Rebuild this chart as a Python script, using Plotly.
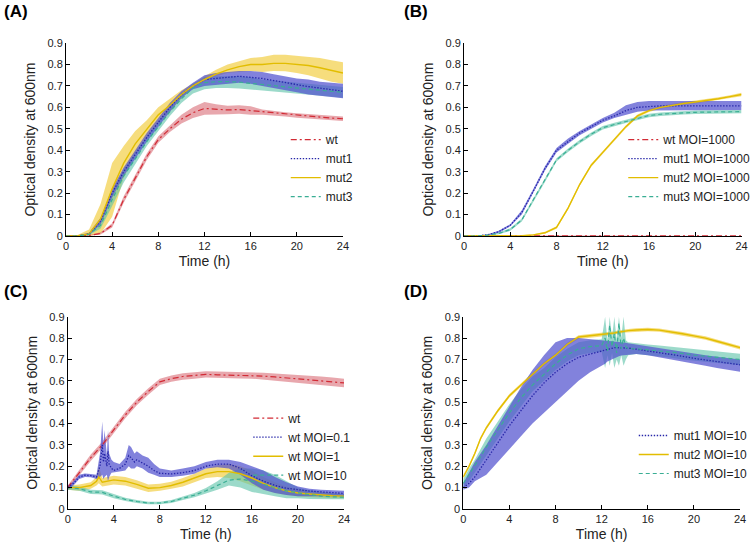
import plotly.graph_objects as go

# ---------------- DATA ----------------
T = list(range(0, 25))

# Panel A
A_wt = [0, 0, 0.003, 0.012, 0.05, 0.17, 0.27, 0.37, 0.45, 0.5, 0.545, 0.575, 0.595, 0.59, 0.588, 0.59, 0.585, 0.578, 0.572, 0.567, 0.562, 0.558, 0.555, 0.55, 0.547]
A_wt_lo = [0, 0, 0.001, 0.007, 0.04, 0.155, 0.255, 0.355, 0.435, 0.485, 0.525, 0.55, 0.565, 0.565, 0.568, 0.57, 0.565, 0.566, 0.562, 0.557, 0.552, 0.548, 0.545, 0.54, 0.537]
A_wt_hi = [0.002, 0.002, 0.005, 0.017, 0.06, 0.185, 0.285, 0.385, 0.465, 0.515, 0.565, 0.6, 0.625, 0.615, 0.608, 0.61, 0.605, 0.59, 0.582, 0.577, 0.572, 0.568, 0.565, 0.56, 0.557]
A_m1 = [0, 0, 0.01, 0.07, 0.2, 0.3, 0.38, 0.46, 0.53, 0.6, 0.66, 0.7, 0.73, 0.735, 0.74, 0.745, 0.74, 0.735, 0.725, 0.715, 0.705, 0.697, 0.69, 0.682, 0.675]
A_m1_lo = [0, 0, 0.005, 0.055, 0.18, 0.28, 0.36, 0.44, 0.51, 0.58, 0.645, 0.685, 0.7, 0.705, 0.71, 0.715, 0.71, 0.7, 0.69, 0.68, 0.67, 0.66, 0.655, 0.648, 0.642]
A_m1_hi = [0.002, 0.003, 0.015, 0.085, 0.22, 0.32, 0.4, 0.48, 0.55, 0.62, 0.675, 0.715, 0.75, 0.76, 0.765, 0.77, 0.77, 0.765, 0.755, 0.745, 0.735, 0.73, 0.72, 0.715, 0.71]
A_m2 = [0, 0, 0.01, 0.08, 0.22, 0.34, 0.43, 0.5, 0.565, 0.61, 0.66, 0.7, 0.73, 0.755, 0.775, 0.79, 0.8, 0.8, 0.805, 0.805, 0.8, 0.795, 0.785, 0.772, 0.76]
A_m2_lo = [0, 0, 0.0, 0.01, 0.09, 0.27, 0.38, 0.46, 0.53, 0.58, 0.64, 0.69, 0.72, 0.745, 0.76, 0.765, 0.77, 0.765, 0.77, 0.768, 0.76, 0.75, 0.735, 0.72, 0.71]
A_m2_hi = [0.003, 0.005, 0.03, 0.15, 0.34, 0.42, 0.49, 0.54, 0.6, 0.64, 0.68, 0.71, 0.745, 0.775, 0.8, 0.815, 0.83, 0.835, 0.845, 0.845, 0.84, 0.835, 0.83, 0.82, 0.81]
A_m3 = [0, 0, 0.008, 0.05, 0.17, 0.28, 0.36, 0.44, 0.51, 0.58, 0.64, 0.69, 0.715, 0.72, 0.72, 0.718, 0.712, 0.706, 0.7, 0.695, 0.69, 0.685, 0.68, 0.675, 0.67]
A_m3_lo = [0, 0, 0.004, 0.035, 0.14, 0.25, 0.335, 0.42, 0.49, 0.56, 0.62, 0.665, 0.685, 0.69, 0.69, 0.688, 0.685, 0.68, 0.675, 0.67, 0.665, 0.66, 0.655, 0.65, 0.645]
A_m3_hi = [0.002, 0.002, 0.012, 0.065, 0.2, 0.31, 0.39, 0.465, 0.535, 0.6, 0.66, 0.71, 0.74, 0.745, 0.745, 0.745, 0.74, 0.73, 0.725, 0.72, 0.715, 0.71, 0.705, 0.7, 0.695]

# Panel B
B_wt = [0.001] * 25
B_wt_lo = [0.0] * 25
B_wt_hi = [0.003] * 25
B_m1 = [0, 0, 0.005, 0.02, 0.05, 0.11, 0.21, 0.315, 0.4, 0.44, 0.48, 0.51, 0.54, 0.56, 0.585, 0.6, 0.605, 0.607, 0.607, 0.607, 0.607, 0.607, 0.607, 0.607, 0.607]
B_m1_lo = [0, 0, 0.003, 0.015, 0.045, 0.1, 0.2, 0.305, 0.39, 0.43, 0.47, 0.5, 0.53, 0.55, 0.565, 0.58, 0.585, 0.587, 0.588, 0.588, 0.588, 0.588, 0.588, 0.588, 0.588]
B_m1_hi = [0.001, 0.002, 0.007, 0.025, 0.055, 0.12, 0.22, 0.325, 0.41, 0.455, 0.49, 0.52, 0.55, 0.575, 0.61, 0.625, 0.63, 0.63, 0.63, 0.63, 0.63, 0.63, 0.63, 0.63, 0.63]
B_m2 = [0, 0, 0, 0, 0, 0.001, 0.005, 0.015, 0.04, 0.13, 0.24, 0.33, 0.39, 0.45, 0.51, 0.56, 0.585, 0.6, 0.61, 0.618, 0.625, 0.632, 0.64, 0.65, 0.66]
B_m2_lo = [0, 0, 0, 0, 0, 0, 0.002, 0.01, 0.034, 0.123, 0.233, 0.323, 0.383, 0.443, 0.503, 0.553, 0.578, 0.593, 0.603, 0.611, 0.618, 0.625, 0.633, 0.643, 0.652]
B_m2_hi = [0.001, 0.001, 0.001, 0.001, 0.002, 0.003, 0.008, 0.02, 0.046, 0.137, 0.247, 0.337, 0.397, 0.457, 0.517, 0.567, 0.592, 0.607, 0.617, 0.625, 0.632, 0.639, 0.647, 0.657, 0.668]
B_m3 = [0, 0, 0.004, 0.012, 0.03, 0.075, 0.17, 0.26, 0.355, 0.4, 0.44, 0.475, 0.505, 0.52, 0.535, 0.55, 0.562, 0.568, 0.572, 0.575, 0.577, 0.578, 0.579, 0.58, 0.58]
B_m3_lo = [0, 0, 0.002, 0.008, 0.024, 0.068, 0.162, 0.252, 0.347, 0.392, 0.432, 0.467, 0.497, 0.512, 0.527, 0.542, 0.554, 0.56, 0.564, 0.567, 0.569, 0.57, 0.571, 0.572, 0.572]
B_m3_hi = [0.001, 0.002, 0.006, 0.016, 0.036, 0.082, 0.178, 0.268, 0.363, 0.408, 0.448, 0.483, 0.513, 0.528, 0.543, 0.558, 0.57, 0.576, 0.58, 0.583, 0.585, 0.586, 0.587, 0.588, 0.588]

# Panel C
C_wt = [0.1, 0.17, 0.24, 0.3, 0.37, 0.44, 0.5, 0.55, 0.595, 0.61, 0.62, 0.625, 0.63, 0.628, 0.627, 0.626, 0.625, 0.622, 0.618, 0.614, 0.61, 0.605, 0.6, 0.595, 0.59]
C_wt_lo = [0.09, 0.155, 0.225, 0.285, 0.355, 0.425, 0.485, 0.535, 0.58, 0.595, 0.605, 0.61, 0.615, 0.613, 0.612, 0.611, 0.61, 0.606, 0.602, 0.597, 0.592, 0.586, 0.58, 0.575, 0.57]
C_wt_hi = [0.11, 0.185, 0.255, 0.315, 0.385, 0.455, 0.515, 0.565, 0.61, 0.625, 0.635, 0.64, 0.645, 0.643, 0.642, 0.641, 0.64, 0.638, 0.634, 0.631, 0.628, 0.624, 0.62, 0.615, 0.61]

C_t01 = [0, 0.5, 1, 1.5, 2, 2.5, 2.8, 3.0, 3.1, 3.2, 3.4, 3.5, 3.6, 3.8, 4, 4.5, 5, 5.3, 5.5, 5.8, 6, 6.5, 7, 7.5, 8, 9, 10, 11, 12, 13, 14, 15, 16, 17, 18, 19, 20, 21, 22, 23, 24]
C_m01 = [0.1, 0.12, 0.15, 0.158, 0.156, 0.15, 0.2, 0.3, 0.22, 0.26, 0.2, 0.27, 0.21, 0.19, 0.18, 0.19, 0.21, 0.25, 0.24, 0.22, 0.23, 0.215, 0.2, 0.18, 0.167, 0.164, 0.17, 0.18, 0.2, 0.21, 0.21, 0.19, 0.155, 0.13, 0.11, 0.097, 0.089, 0.084, 0.08, 0.076, 0.073]
C_m01_lo = [0.09, 0.11, 0.14, 0.15, 0.148, 0.14, 0.15, 0.16, 0.14, 0.15, 0.16, 0.13, 0.15, 0.17, 0.17, 0.175, 0.18, 0.2, 0.19, 0.19, 0.2, 0.19, 0.17, 0.16, 0.15, 0.15, 0.155, 0.165, 0.19, 0.195, 0.19, 0.16, 0.12, 0.09, 0.075, 0.065, 0.06, 0.06, 0.06, 0.06, 0.06]
C_m01_hi = [0.11, 0.13, 0.16, 0.166, 0.164, 0.16, 0.26, 0.41, 0.3, 0.37, 0.25, 0.37, 0.26, 0.23, 0.22, 0.21, 0.24, 0.3, 0.29, 0.26, 0.27, 0.25, 0.24, 0.21, 0.19, 0.18, 0.19, 0.2, 0.22, 0.23, 0.23, 0.22, 0.2, 0.18, 0.15, 0.125, 0.105, 0.095, 0.09, 0.088, 0.085]

C_t1 = [0, 1, 2, 2.5, 2.7, 3, 4, 5, 6, 7, 8, 9, 10, 11, 12, 13, 14, 15, 16, 17, 18, 19, 20, 21, 22, 23, 24]
C_m1 = [0.1, 0.1, 0.11, 0.13, 0.15, 0.125, 0.136, 0.13, 0.115, 0.097, 0.1, 0.11, 0.125, 0.145, 0.165, 0.175, 0.175, 0.165, 0.145, 0.12, 0.1, 0.085, 0.075, 0.07, 0.065, 0.062, 0.06]
C_m1_lo = [0.09, 0.085, 0.095, 0.11, 0.12, 0.105, 0.115, 0.11, 0.095, 0.08, 0.085, 0.095, 0.105, 0.125, 0.145, 0.15, 0.145, 0.13, 0.11, 0.09, 0.075, 0.065, 0.058, 0.055, 0.052, 0.05, 0.05]
C_m1_hi = [0.11, 0.115, 0.125, 0.15, 0.2, 0.145, 0.155, 0.15, 0.135, 0.115, 0.118, 0.128, 0.145, 0.165, 0.19, 0.205, 0.21, 0.2, 0.18, 0.15, 0.125, 0.105, 0.092, 0.085, 0.078, 0.074, 0.07]

C_m10 = [0.1, 0.095, 0.08, 0.08, 0.079, 0.078, 0.06, 0.045, 0.035, 0.028, 0.028, 0.035, 0.05, 0.065, 0.085, 0.11, 0.135, 0.14, 0.13, 0.115, 0.1, 0.085, 0.075, 0.067, 0.06, 0.057, 0.055]
C_m10_lo = [0.09, 0.085, 0.07, 0.07, 0.069, 0.068, 0.05, 0.037, 0.028, 0.022, 0.022, 0.028, 0.042, 0.055, 0.072, 0.09, 0.11, 0.1, 0.08, 0.07, 0.06, 0.05, 0.05, 0.047, 0.045, 0.045, 0.045]
C_m10_hi = [0.11, 0.105, 0.09, 0.09, 0.089, 0.088, 0.07, 0.053, 0.042, 0.034, 0.034, 0.042, 0.058, 0.075, 0.098, 0.13, 0.17, 0.19, 0.19, 0.18, 0.16, 0.13, 0.1, 0.088, 0.08, 0.075, 0.07]

# Panel D
D_t = [0, 0.5, 1, 1.5, 2, 3, 4, 5, 6, 7, 8, 9, 10, 11, 12, 12.3, 12.5, 12.7, 12.9, 13.1, 13.3, 13.5, 13.7, 13.9, 14.1, 14.3, 15, 16, 17, 18, 19, 20, 21, 22, 23, 24]
D_m1 = [0.1, 0.12, 0.15, 0.19, 0.23, 0.31, 0.39, 0.46, 0.53, 0.59, 0.64, 0.68, 0.71, 0.725, 0.74, 0.745, 0.748, 0.75, 0.752, 0.755, 0.755, 0.755, 0.755, 0.755, 0.755, 0.753, 0.748, 0.74, 0.733, 0.725, 0.715, 0.705, 0.697, 0.69, 0.682, 0.675]
D_m1_lo = [0.09, 0.1, 0.13, 0.145, 0.16, 0.22, 0.28, 0.34, 0.4, 0.45, 0.5, 0.55, 0.6, 0.64, 0.67, 0.68, 0.69, 0.695, 0.7, 0.705, 0.71, 0.715, 0.718, 0.72, 0.722, 0.722, 0.725, 0.72, 0.712, 0.703, 0.692, 0.68, 0.67, 0.66, 0.65, 0.642]
D_m1_hi = [0.12, 0.17, 0.22, 0.26, 0.3, 0.39, 0.48, 0.57, 0.65, 0.72, 0.78, 0.8, 0.8, 0.795, 0.79, 0.79, 0.79, 0.788, 0.786, 0.785, 0.783, 0.782, 0.78, 0.78, 0.778, 0.776, 0.77, 0.76, 0.752, 0.745, 0.737, 0.728, 0.72, 0.713, 0.707, 0.7]
D_m2 = [0.15, 0.2, 0.26, 0.33, 0.38, 0.46, 0.53, 0.58, 0.63, 0.68, 0.72, 0.77, 0.805, 0.81, 0.815, 0.817, 0.818, 0.82, 0.822, 0.824, 0.826, 0.828, 0.83, 0.832, 0.834, 0.835, 0.838, 0.84, 0.837, 0.83, 0.82, 0.81, 0.8, 0.785, 0.77, 0.755]
D_m2_lo = [0.142, 0.192, 0.252, 0.322, 0.372, 0.452, 0.522, 0.572, 0.622, 0.672, 0.712, 0.762, 0.797, 0.802, 0.807, 0.809, 0.81, 0.812, 0.814, 0.816, 0.818, 0.82, 0.822, 0.824, 0.826, 0.827, 0.83, 0.832, 0.829, 0.822, 0.812, 0.802, 0.792, 0.777, 0.762, 0.747]
D_m2_hi = [0.158, 0.208, 0.268, 0.338, 0.388, 0.468, 0.538, 0.588, 0.638, 0.688, 0.728, 0.778, 0.813, 0.818, 0.823, 0.825, 0.826, 0.828, 0.83, 0.832, 0.834, 0.836, 0.838, 0.84, 0.842, 0.843, 0.846, 0.848, 0.845, 0.838, 0.828, 0.818, 0.808, 0.793, 0.778, 0.763]
D_m3 = [0.12, 0.16, 0.2, 0.245, 0.29, 0.37, 0.45, 0.52, 0.58, 0.63, 0.68, 0.72, 0.75, 0.76, 0.765, 0.8, 0.74, 0.86, 0.76, 0.82, 0.73, 0.87, 0.75, 0.8, 0.76, 0.75, 0.75, 0.745, 0.74, 0.735, 0.728, 0.72, 0.715, 0.71, 0.705, 0.7]
D_m3_lo = [0.1, 0.13, 0.17, 0.21, 0.25, 0.33, 0.41, 0.48, 0.55, 0.6, 0.65, 0.69, 0.72, 0.73, 0.735, 0.66, 0.72, 0.67, 0.73, 0.66, 0.7, 0.67, 0.72, 0.67, 0.7, 0.72, 0.725, 0.72, 0.715, 0.708, 0.7, 0.693, 0.688, 0.683, 0.678, 0.673]
D_m3_hi = [0.14, 0.19, 0.23, 0.28, 0.33, 0.41, 0.49, 0.56, 0.62, 0.66, 0.71, 0.75, 0.78, 0.79, 0.795, 0.9, 0.79, 0.9, 0.8, 0.9, 0.79, 0.9, 0.8, 0.9, 0.79, 0.78, 0.775, 0.77, 0.765, 0.76, 0.755, 0.748, 0.742, 0.737, 0.732, 0.727]

# ---------------- STYLE ----------------
FONT = "Liberation Sans, Arial, sans-serif"
STY = {
    "wt":   dict(line="#d22b35", band="rgba(214,95,105,0.55)", dash="6px,3px,2px,3px", width=1.2),
    "mut1": dict(line="#2626a8", band="rgba(82,82,206,0.72)", dash="1.4px,1.6px", width=1.3),
    "mut2": dict(line="#e2bd00", band="rgba(240,200,45,0.62)", dash="solid", width=1.4),
    "mut3": dict(line="#3aae94", band="rgba(95,195,170,0.62)", dash="4px,3px", width=1.2),
}

fig = go.Figure()

panels = {
    "A": dict(xa="x", ya="y", legend="legend", dom_x=[0.088, 0.4573], dom_y=[0.567, 0.921]),
    "B": dict(xa="x2", ya="y2", legend="legend2", dom_x=[0.6187, 0.9887], dom_y=[0.567, 0.921]),
    "C": dict(xa="x3", ya="y3", legend="legend3", dom_x=[0.0903, 0.4587], dom_y=[0.0661, 0.4189]),
    "D": dict(xa="x4", ya="y4", legend="legend4", dom_x=[0.6177, 0.9867], dom_y=[0.0661, 0.4189]),
}

series = {
    "A": [
        ("wt", "wt", T, A_wt, A_wt_lo, A_wt_hi),
        ("mut1", "mut1", T, A_m1, A_m1_lo, A_m1_hi),
        ("mut2", "mut2", T, A_m2, A_m2_lo, A_m2_hi),
        ("mut3", "mut3", T, A_m3, A_m3_lo, A_m3_hi),
    ],
    "B": [
        ("wt", "wt MOI=1000", T, B_wt, B_wt_lo, B_wt_hi),
        ("mut1", "mut1 MOI=1000", T, B_m1, B_m1_lo, B_m1_hi),
        ("mut2", "mut2 MOI=1000", T, B_m2, B_m2_lo, B_m2_hi),
        ("mut3", "mut3 MOI=1000", T, B_m3, B_m3_lo, B_m3_hi),
    ],
    "C": [
        ("wt", "wt", T, C_wt, C_wt_lo, C_wt_hi),
        ("mut1", "wt MOI=0.1", C_t01, C_m01, C_m01_lo, C_m01_hi),
        ("mut2", "wt MOI=1", C_t1, C_m1, C_m1_lo, C_m1_hi),
        ("mut3", "wt MOI=10", C_t1, C_m10, C_m10_lo, C_m10_hi),
    ],
    "D": [
        ("mut1", "mut1 MOI=10", D_t, D_m1, D_m1_lo, D_m1_hi),
        ("mut2", "mut2 MOI=10", D_t, D_m2, D_m2_lo, D_m2_hi),
        ("mut3", "mut3 MOI=10", D_t, D_m3, D_m3_lo, D_m3_hi),
    ],
}

band_order = ["mut2", "wt", "mut3", "mut1"]

for key, p in panels.items():
    ser = series[key]
    for k in band_order:
        for s in ser:
            if s[0] != k:
                continue
            _, name, t, m, lo, hi = s
            fig.add_trace(go.Scatter(
                x=list(t) + list(t)[::-1], y=list(hi) + list(lo)[::-1],
                fill="toself", fillcolor=STY[k]["band"], line=dict(width=0),
                mode="lines", hoverinfo="skip", showlegend=False,
                xaxis=p["xa"], yaxis=p["ya"]))
    for s in ser:
        k, name, t, m, lo, hi = s
        fig.add_trace(go.Scatter(
            x=t, y=m, mode="lines", name=name,
            line=dict(color=STY[k]["line"], dash=STY[k]["dash"], width=STY[k]["width"]),
            xaxis=p["xa"], yaxis=p["ya"], legend=p["legend"]))

axis_common = dict(showline=True, linecolor="black", linewidth=1, ticks="inside", ticklen=4,
                   tickcolor="black", showgrid=False, zeroline=False, automargin=False,
                   tickfont=dict(family=FONT, size=11, color="#222"))

layout = dict(
    width=750, height=545, margin=dict(l=0, r=0, t=0, b=0, autoexpand=False),
    paper_bgcolor="white", plot_bgcolor="white",
    font=dict(family=FONT, size=12, color="#222"),
)

for i, (key, p) in enumerate(panels.items()):
    sfx = "" if i == 0 else str(i + 1)
    layout["xaxis" + sfx] = dict(axis_common, domain=p["dom_x"], range=[0, 24], tickvals=[0, 4, 8, 12, 16, 20, 24],
                                 anchor="y" + sfx,
                                 title=dict(text="Time (h)", font=dict(family=FONT, size=14, color="#222"), standoff=5))
    layout["yaxis" + sfx] = dict(axis_common, domain=p["dom_y"], range=[0, 0.9], dtick=0.1,
                                 anchor="x" + sfx,
                                 title=dict(text="Optical density at 600nm", font=dict(family=FONT, size=14, color="#222"), standoff=8))

leg_common = dict(bgcolor="rgba(0,0,0,0)", borderwidth=0, font=dict(family=FONT, size=12, color="#222"),
                  xanchor="left", yanchor="top", tracegroupgap=0)
layout["legend"] = dict(leg_common, x=0.381, y=0.7705)
layout["legend2"] = dict(leg_common, x=0.831, y=0.7705)
layout["legend3"] = dict(leg_common, x=0.331, y=0.2593)
layout["legend4"] = dict(leg_common, x=0.845, y=0.2275)

fig.update_layout(**layout)

for lab, x, y in [("(A)", 0.003, 1.0), ("(B)", 0.536, 1.0), ("(C)", 0.003, 0.486), ("(D)", 0.536, 0.486)]:
    fig.add_annotation(text="<b>%s</b>" % lab, x=x, y=y, xref="paper", yref="paper",
                       xanchor="left", yanchor="top", showarrow=False,
                       font=dict(family=FONT, size=17, color="black"))

fig.write_html("out.html", config={"displayModeBar": False},
               post_script="document.body.style.margin='0';document.body.style.overflow='hidden';")
